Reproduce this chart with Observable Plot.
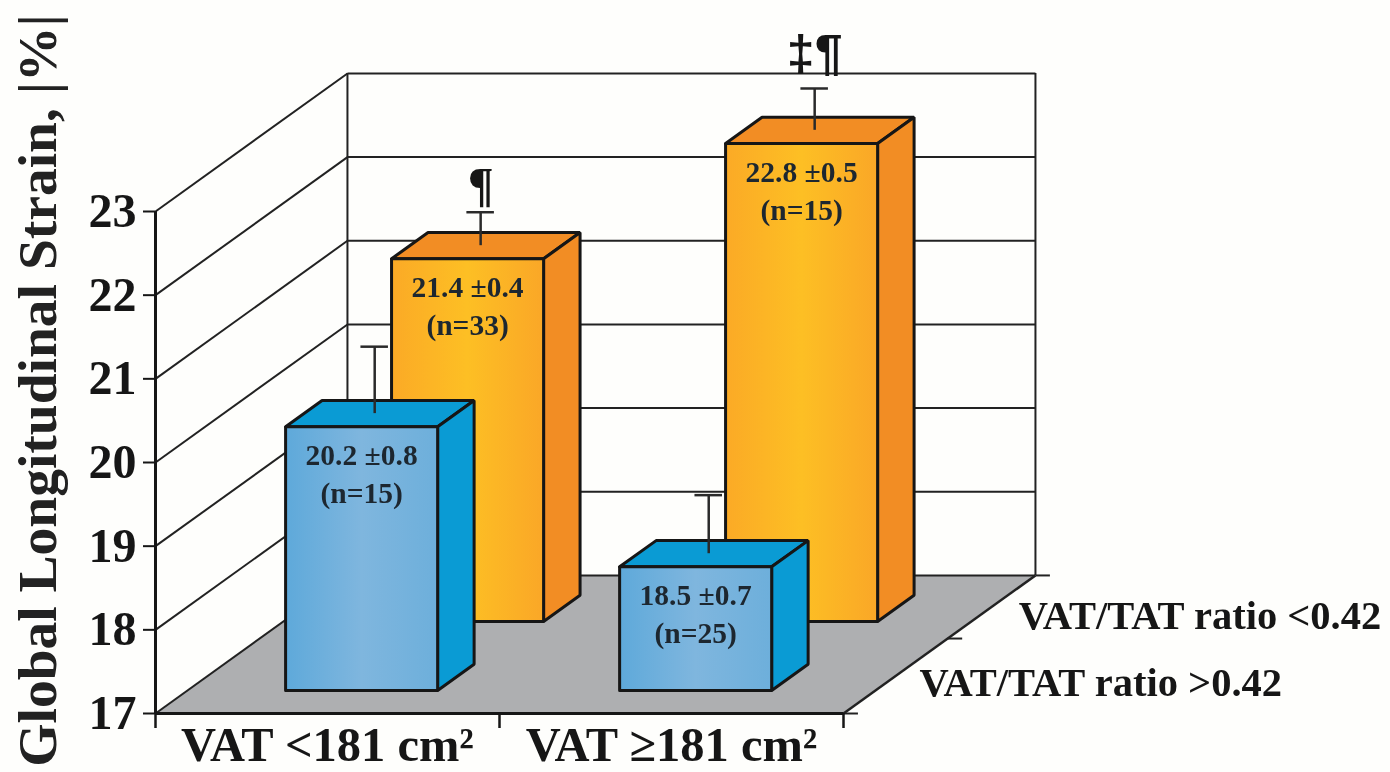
<!DOCTYPE html>
<html>
<head>
<meta charset="utf-8">
<script src="https://cdn.jsdelivr.net/npm/d3@7"></script>
<script src="https://cdn.jsdelivr.net/npm/@observablehq/plot@0.6"></script>
<style>
  html, body { margin: 0; padding: 0; background: #fefefc; overflow: hidden; }
  svg { display: block; filter: blur(0.45px); }
</style>
</head>
<body>
<div id="chart"></div>
<script>
// ---- values ----
const groups = ["VAT <181 cm²", "VAT ≥181 cm²"];
const ratios = ["VAT/TAT ratio >0.42", "VAT/TAT ratio <0.42"];
const yTicks = [17, 18, 19, 20, 21, 22, 23];
const meansHigh = [20.2, 18.5];
const meansLow = [21.4, 22.8];
const errorsHigh = [0.8, 0.7];
const errorsLow = [0.4, 0.5];
const countsHigh = [15, 25];
const countsLow = [33, 15];
const flagsLow = ["¶", "‡¶"];
const yTitle = "Global Longitudinal Strain, |%|";

// ---- oblique projection: depth z (0 front .. 1 back) shifts x and y in data units ----
const DX = 0.558, DY = 1.65;
const Z0 = [0.167, 0.667];   // front of each row of bars
const DEPTH = 0.19, WIDTH = 0.442, PITCH = 0.971, START = 0.285, ROW_SHIFT = 0.029, HEIGHT_K = 0.985;
const BASE = 17, TOPV = 23;
const P = (x, z, v) => ({x: x + z * DX, y: v + z * DY});
const poly = (...pts) => [...pts, pts[0]];

const INK = "#161616", SERIF = "'Liberation Serif', 'Times New Roman', serif", SANS = "'Liberation Sans', Arial, sans-serif";

const bars = [];
[[1, meansLow, errorsLow, countsLow], [0, meansHigh, errorsHigh, countsHigh]].forEach(([row, m, e, n]) => {
  groups.forEach((g, i) => {
    const x0 = i * PITCH + START + row * ROW_SHIFT;
    const z0 = Z0[row];
    const h = BASE + (m[i] - BASE) * HEIGHT_K;
    bars.push({row, i, x0, z0, h, mean: m[i], err: e[i], n: n[i], flag: row ? flagsLow[i] : ""});
  });
});

const barMarks = bars.flatMap(b => {
  const x1 = b.x0 + WIDTH, z1 = b.z0 + DEPTH;
  const side = b.row ? "#f28d24" : "#0a9bd4";
  const face = b.row ? "url(#gOrange)" : "url(#gBlue)";
  const cx = b.x0 + WIDTH / 2 - 0.015, cz = b.z0 + DEPTH / 2;
  const stem = P(cx, cz, b.h);
  const capV = stem.y + b.err;
  const style = {x: "x", y: "y", stroke: INK, strokeWidth: 3, strokeLinejoin: "miter"};
  const mid = P(b.x0 + WIDTH / 2, b.z0, b.h);
  const labelStyle = {x: [mid.x], y: [mid.y], fontSize: 29.5, fontWeight: "bold", fontFamily: SERIF, fill: "#1d2730"};
  return [
    Plot.line(poly(P(b.x0, b.z0, b.h), P(x1, b.z0, b.h), P(x1, z1, b.h), P(b.x0, z1, b.h)), {...style, fill: side}),
    Plot.line(poly(P(x1, b.z0, BASE), P(x1, z1, BASE), P(x1, z1, b.h), P(x1, b.z0, b.h)), {...style, fill: side}),
    Plot.line(poly(P(b.x0, b.z0, BASE), P(x1, b.z0, BASE), P(x1, b.z0, b.h), P(b.x0, b.z0, b.h)), {...style, fill: face}),
    Plot.ruleX([stem.x], {y1: stem.y, y2: capV, stroke: "#2a2a2a", strokeWidth: 2.5}),
    Plot.ruleY([capV], {x1: stem.x - 0.04, x2: stem.x + 0.04, stroke: "#2a2a2a", strokeWidth: 2.5}),
    Plot.text([`${b.mean.toFixed(1)} ±${b.err.toFixed(1)}`], {...labelStyle, dy: 29}),
    Plot.text([`(n=${b.n})`], {...labelStyle, dy: 67}),
    ...(b.flag ? [Plot.text([b.flag], {x: [stem.x], y: [capV], dy: b.i ? -34 : -27, fontSize: b.i ? 50 : 48, fontWeight: "bold", fontFamily: b.i ? SANS : SERIF, fill: INK})] : [])
  ];
});

// gradients used by the front faces of the bars
const defs = () => {
  const d = d3.create("svg:defs");
  [["gBlue", "#5ea9da", "#7fb6de", "#6dafdb"], ["gOrange", "#fbaa26", "#fdbf24", "#faa727"]].forEach(([id, a, b, c]) => {
    const g = d.append("linearGradient").attr("id", id).attr("x1", 0).attr("x2", 1).attr("y1", 0).attr("y2", 0);
    g.append("stop").attr("offset", "0%").attr("stop-color", a);
    g.append("stop").attr("offset", "50%").attr("stop-color", b);
    g.append("stop").attr("offset", "100%").attr("stop-color", c);
  });
  return d.node();
};

const depthTicks = [0, 0.543, 1].map(z => {
  const a = P(2, z, BASE);
  return {x1: a.x, y1: a.y, x2: a.x + 0.042, y2: a.y};
});
const wallLines = yTicks.map(v => ({a: P(0, 0, v), b: P(0, 1, v), c: P(2, 1, v)}));
const backLeft = P(0, 1, BASE), backLeftTop = P(0, 1, TOPV), backRight = P(2, 1, BASE), frontRight = P(2, 0, BASE);
const ratioLabel = {x: "x", y: "y", text: "text", textAnchor: "start", fontSize: 40.5, fontWeight: "bold", fontFamily: SERIF, fill: INK};
const wallStyle = {stroke: "#222", strokeWidth: 2};

const chart = Plot.plot({
  width: 1390, height: 772,
  marginLeft: 155, marginRight: 547, marginTop: 211, marginBottom: 59,
  style: {background: "#fefefc", overflow: "visible", fontFamily: SERIF},
  x: {domain: [0, 2]},
  y: {domain: [BASE, TOPV]},
  marks: [
    defs,
    Plot.line(poly(P(0, 0, BASE), P(2, 0, BASE), P(2, 1, BASE), P(0, 1, BASE)), {x: "x", y: "y", fill: "#aeafb1", stroke: "none"}),
    // side wall and back wall grid
    Plot.link(wallLines, {x1: d => d.a.x, y1: d => d.a.y, x2: d => d.b.x, y2: d => d.b.y, ...wallStyle}),
    Plot.link(wallLines, {x1: d => d.b.x, y1: d => d.b.y, x2: d => d.c.x, y2: d => d.c.y, ...wallStyle}),
    Plot.ruleX([backLeft.x, backRight.x], {y1: backLeft.y, y2: backLeftTop.y, ...wallStyle}),
    Plot.link(depthTicks, {x1: "x1", y1: "y1", x2: "x2", y2: "y2", ...wallStyle}),
    Plot.link([{x1: frontRight.x, y1: frontRight.y, x2: backRight.x, y2: backRight.y}], {x1: "x1", y1: "y1", x2: "x2", y2: "y2", ...wallStyle, strokeWidth: 2.5}),
    ...barMarks,
    // front axes
    Plot.ruleY([BASE], {x1: 0, x2: 2, stroke: INK, strokeWidth: 3}),
    Plot.ruleX([0], {y1: BASE, y2: TOPV, stroke: INK, strokeWidth: 3}),
    Plot.axisY({ticks: yTicks, tickSize: 12, tickPadding: 7, fontSize: 48, fontWeight: "bold", fontFamily: SERIF, fill: INK, stroke: INK, strokeWidth: 2, label: null, tickFormat: d => d}),
    Plot.axisX({ticks: [0, 1, 2], tickSize: 15, tickFormat: () => "", stroke: INK, strokeWidth: 2.5, label: null}),
    Plot.text(groups, {x: [0.5, 1.5], y: [BASE, BASE], dy: 32, fontSize: 48.5, fontWeight: "bold", fontFamily: SERIF, fill: INK}),
    Plot.text([{text: ratios[1], ...P(2, 0.543, BASE)}], {...ratioLabel, dx: 71, dy: -23}),
    Plot.text([{text: ratios[0], ...P(2, 0.167, BASE)}], {...ratioLabel, dx: 44, dy: -7}),
    Plot.text([yTitle], {x: [0], y: [20.86], dx: -117, rotate: -90, fontSize: 55.5, fontWeight: "bold", fontFamily: SERIF, fill: "#222"})
  ]
});
document.getElementById("chart").appendChild(chart);
</script>
</body>
</html>
